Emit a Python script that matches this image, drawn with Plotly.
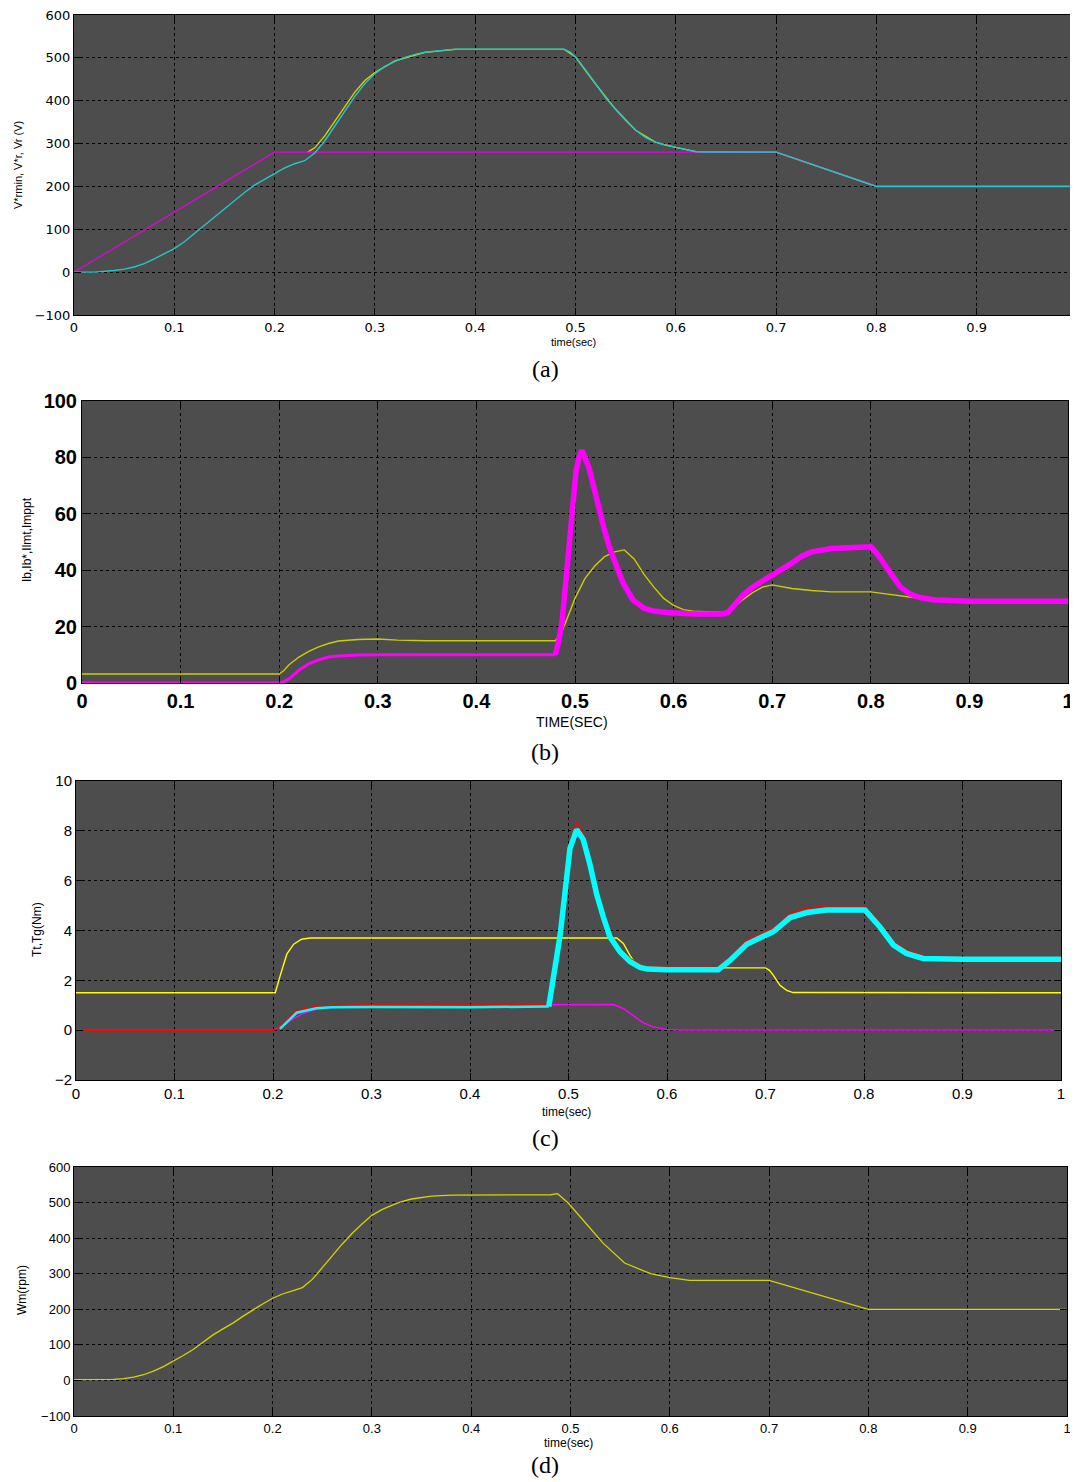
import plotly.graph_objects as go

# ---------------- (a) voltages ----------------
t_a_vrmin = [0, 0.2, 0.7, 0.8, 1.0]
v_a_vrmin = [0, 280, 280, 200, 200]

t_a_vref = [0.233, 0.24, 0.25, 0.26, 0.27, 0.28, 0.29, 0.3, 0.32, 0.35, 0.38, 0.4885,
            0.5, 0.52, 0.54, 0.56, 0.58, 0.6, 0.62, 0.7, 0.8, 1.0]
v_a_vref = [280, 290, 318, 352, 388, 420, 447, 466, 493, 513, 520, 520,
            502, 439, 380, 331, 303, 291, 281, 280, 200, 200]

t_a_vr = [0, 0.02, 0.04, 0.05, 0.06, 0.07, 0.08, 0.09, 0.1, 0.11, 0.12, 0.13, 0.14, 0.15,
          0.16, 0.17, 0.18, 0.19, 0.2, 0.21, 0.22, 0.23, 0.24, 0.25, 0.26, 0.27, 0.28, 0.29,
          0.3, 0.31, 0.32, 0.33, 0.34, 0.35, 0.36, 0.37, 0.38, 0.4885, 0.495, 0.5, 0.51, 0.52,
          0.53, 0.54, 0.55, 0.56, 0.57, 0.58, 0.59, 0.6, 0.61, 0.62, 0.63, 0.7, 0.8, 1.0]
v_a_vr = [0, 0, 4, 7, 12, 20, 31, 43, 55, 71, 90, 110, 130, 149,
          168, 186, 203, 217, 229, 243, 253, 260, 278, 306, 341, 377, 410, 440,
          463, 480, 492, 501, 508, 513, 516, 518, 520, 520, 513, 502, 472, 439,
          407, 380, 354, 331, 314, 303, 296, 291, 286, 281, 280, 280, 200, 200]

# ---------------- (b) currents ----------------
t_b_ilmt = [0, 0.2, 0.205, 0.21, 0.22, 0.23, 0.24, 0.25, 0.26, 0.28, 0.3, 0.32, 0.35, 0.4,
            0.48, 0.485, 0.49, 0.5, 0.51, 0.52, 0.53, 0.54, 0.55, 0.56, 0.57, 0.58, 0.59,
            0.6, 0.61, 0.62, 0.65, 0.66, 0.67, 0.68, 0.69, 0.7, 0.71, 0.72, 0.74, 0.76,
            0.8, 0.82, 0.84, 0.86, 0.9, 1.0]
v_b_ilmt = [3.2, 3.2, 4.5, 6.5, 9.2, 11.2, 12.8, 14.0, 14.9, 15.4, 15.6, 15.2, 15, 15,
            15, 17, 21, 30, 37, 41.5, 44.8, 46.5, 47.2, 44, 38.5, 34, 30,
            27.5, 26, 25.5, 25, 26.5, 29.5, 32, 34, 34.8, 34.2, 33.5, 32.8, 32.3,
            32.3, 31.3, 30.3, 29.5, 29, 29]

t_b_ib1 = [0, 0.2, 0.205, 0.21, 0.215, 0.22, 0.23, 0.24, 0.25, 0.26, 0.28, 0.3, 0.4, 0.48]
v_b_ib1 = [0, 0, 0.5, 1.5, 3, 4.5, 6.8, 8.2, 9.2, 9.6, 9.9, 10, 10, 10]

t_b_ib2 = [0.48, 0.483, 0.487, 0.492, 0.497, 0.501, 0.504, 0.507, 0.51, 0.514, 0.518, 0.522,
           0.529, 0.535, 0.54, 0.549, 0.559, 0.57, 0.58, 0.593, 0.62, 0.65, 0.655, 0.66,
           0.67, 0.68, 0.69, 0.7, 0.71, 0.72, 0.73, 0.74, 0.76, 0.8, 0.806, 0.813, 0.82,
           0.83, 0.84, 0.85, 0.863, 0.9, 1.0]
v_b_ib2 = [10, 14, 22, 40, 60, 75, 80, 82.5, 80, 76.5, 71, 65,
           55.4, 48, 43.6, 35.3, 29.4, 26.5, 25.5, 25, 24.5, 24.5, 25, 27,
           31, 34, 36, 38, 40, 42.5, 45, 46.5, 47.7, 48.3, 46, 42.4, 38.5,
           34, 31.5, 30.3, 29.5, 29, 29]

# ---------------- (c) torques ----------------
t_c_yel = [0, 0.2, 0.2023, 0.2074, 0.214, 0.221, 0.229, 0.2375, 0.549, 0.5557, 0.5624, 0.569,
           0.575, 0.58, 0.6, 0.7, 0.704, 0.708, 0.7147, 0.7215, 0.728, 1.0]
v_c_yel = [1.5, 1.5, 1.5, 2.2, 3.05, 3.45, 3.65, 3.7, 3.7, 3.48, 3.0, 2.6,
           2.52, 2.5, 2.5, 2.5, 2.4, 2.2, 1.8, 1.6, 1.51, 1.5]

t_c_mag = [0, 0.2, 0.21, 0.22, 0.23, 0.24, 0.25, 0.26, 0.28, 0.48, 0.485, 0.5455, 0.5557,
           0.566, 0.576, 0.586, 0.5997, 0.613, 1.0]
v_c_mag = [0, 0, 0.15, 0.45, 0.65, 0.8, 0.9, 0.95, 1.0, 1.0, 1.03, 1.03, 0.87,
           0.56, 0.29, 0.13, 0.03, 0, 0]

t_c_tt = [0, 0.2, 0.205, 0.21, 0.224, 0.244, 0.26, 0.3, 0.4, 0.4795, 0.4863, 0.4914, 0.4964,
          0.5015, 0.5083, 0.515, 0.5218, 0.5286, 0.5353, 0.542, 0.5523, 0.5624, 0.5726, 0.58,
          0.6, 0.652, 0.664, 0.681, 0.6995, 0.708, 0.725, 0.742, 0.762, 0.801, 0.816, 0.8298,
          0.843, 0.86, 0.9, 1.0]
v_c_tt = [0, 0, 0.05, 0.2, 0.8, 0.96, 1.0, 1.02, 1.02, 1.04, 2.54, 3.88, 5.62,
          7.5, 8.37, 7.9, 6.83, 5.62, 4.69, 3.88, 3.28, 2.88, 2.64, 2.55,
          2.52, 2.52, 2.94, 3.61, 3.95, 4.08, 4.69, 4.89, 4.99, 4.99, 4.28, 3.55,
          3.21, 3.0, 2.92, 2.92]

t_c_tg1 = [0.207, 0.215, 0.224, 0.244, 0.26, 0.3, 0.4, 0.48]
v_c_tg1 = [0.05, 0.35, 0.7, 0.88, 0.92, 0.93, 0.92, 0.95]

t_c_tg2 = [0.48, 0.4863, 0.4914, 0.4964, 0.5015, 0.5083, 0.515, 0.5218, 0.5286, 0.5353, 0.542,
           0.5523, 0.5624, 0.5726, 0.58, 0.6, 0.652, 0.664, 0.681, 0.6995, 0.708, 0.725,
           0.742, 0.762, 0.801, 0.816, 0.8298, 0.843, 0.86, 0.9, 1.0]
v_c_tg2 = [0.95, 2.45, 3.78, 5.5, 7.3, 8.05, 7.65, 6.65, 5.45, 4.55, 3.75,
           3.15, 2.75, 2.52, 2.45, 2.42, 2.42, 2.8, 3.45, 3.8, 3.95, 4.52,
           4.72, 4.82, 4.82, 4.15, 3.42, 3.08, 2.88, 2.85, 2.85]

# ---------------- (d) speed ----------------
t_d = [0, 0.03, 0.04, 0.05, 0.06, 0.07, 0.08, 0.09, 0.1, 0.11, 0.12, 0.13, 0.14, 0.15, 0.16,
       0.17, 0.18, 0.19, 0.2, 0.21, 0.22, 0.23, 0.24, 0.25, 0.26, 0.27, 0.28, 0.29, 0.3, 0.31,
       0.32, 0.33, 0.34, 0.35, 0.36, 0.38, 0.45, 0.48, 0.487, 0.498, 0.5154, 0.5328, 0.5545,
       0.5807, 0.6, 0.6197, 0.7, 0.8, 1.0]
v_d = [2, 2, 3, 5, 9, 16, 26, 39, 54, 70, 87, 108, 128, 145, 161,
       180, 198, 215, 231, 243, 252, 261, 284, 318, 352, 383, 413, 440, 464, 480,
       492, 503, 510, 515, 518, 521, 522, 522, 525, 498, 442, 386, 330,
       300, 289, 281, 281, 200, 200]

x_tickvals = [0, 0.1, 0.2, 0.3, 0.4, 0.5, 0.6, 0.7, 0.8, 0.9, 1.0]
x_ticktext = ["0", "0.1", "0.2", "0.3", "0.4", "0.5", "0.6", "0.7", "0.8", "0.9", "1"]

# page offset of the figure (default body margin) and figure size
OFF = 8
W, H = 1078 - OFF, 1482 - OFF

def xdom(l, r):
    return [(l - OFF) / W, (r - OFF) / W]

def ydom(t, b):
    return [1 - (b - OFF) / H, 1 - (t - OFF) / H]

fig = go.Figure()

def add(x, y, color, width, ax):
    fig.add_trace(go.Scatter(x=x, y=y, mode="lines", line=dict(color=color, width=width),
                             xaxis="x" + ax, yaxis="y" + ax, showlegend=False,
                             hoverinfo="skip"))

# (a)
add(t_a_vref, v_a_vref, "#d8d800", 1.3, "")
add(t_a_vrmin, v_a_vrmin, "#e600e6", 1.2, "")
add(t_a_vr, v_a_vr, "#25c6c6", 1.4, "")
# (b)
add(t_b_ilmt, v_b_ilmt, "#cccc00", 1.4, "2")
add(t_b_ib1, v_b_ib1, "#ff00ff", 3, "2")
add(t_b_ib2, v_b_ib2, "#ff00ff", 5.5, "2")
# (c)
add(t_c_yel, v_c_yel, "#ffff00", 1.4, "3")
add(t_c_mag, v_c_mag, "#ff00ff", 1.4, "3")
add(t_c_tt, v_c_tt, "#ff0000", 1.5, "3")
add(t_c_tg1, v_c_tg1, "#00ffff", 2.5, "3")
add(t_c_tg2, v_c_tg2, "#00ffff", 5.5, "3")
# (d)
add(t_d, v_d, "#d4d400", 1.3, "4")

SANS = "Liberation Sans, Arial, sans-serif"
WIDE = "DejaVu Sans, Verdana, sans-serif"

def common():
    return dict(showline=True, linecolor="black", linewidth=1, mirror="ticks",
                ticks="inside", ticklen=7, tickcolor="black", showgrid=True,
                gridcolor="black", griddash="dot", gridwidth=1, zeroline=False,
                automargin=False, ticklabeloverflow="allow")

def xaxis(dom, anchor, fsize, fam=SANS, bold=False):
    d = common()
    d.update(domain=dom, anchor=anchor, range=[0, 1], tickmode="array",
             tickvals=x_tickvals, ticktext=x_ticktext,
             tickfont=dict(family=fam, size=fsize, color="black",
                           weight="bold" if bold else "normal"))
    return d

def yaxis(dom, anchor, rng, dt, fsize, fam=SANS, bold=False):
    d = common()
    d.update(domain=dom, anchor=anchor, range=rng, dtick=dt, tick0=rng[0],
             tickfont=dict(family=fam, size=fsize, color="black",
                           weight="bold" if bold else "normal"))
    return d

fig.update_layout(
    width=W, height=H, margin=dict(l=0, r=0, t=0, b=0, autoexpand=False),
    paper_bgcolor="white", plot_bgcolor="#4d4d4d",
    xaxis=xaxis(xdom(74, 1077), "y", 13, WIDE),
    yaxis=yaxis(ydom(15, 315), "x", [-100, 600], 100, 13, WIDE),
    xaxis2=xaxis(xdom(82, 1068), "y2", 20, SANS, True),
    yaxis2=yaxis(ydom(401, 683), "x2", [0, 100], 20, 20, SANS, True),
    xaxis3=xaxis(xdom(76, 1061), "y3", 15),
    yaxis3=yaxis(ydom(781, 1080), "x3", [-2, 10], 2, 15),
    xaxis4=xaxis(xdom(74, 1067), "y4", 13),
    yaxis4=yaxis(ydom(1167, 1416), "x4", [-100, 600], 100, 13),
)

def note(text, px, py, size, family=SANS, angle=0):
    fig.add_annotation(text=text, x=(px - OFF) / W, y=1 - (py - OFF) / H, xref="paper",
                       yref="paper", showarrow=False, textangle=angle, xanchor="center",
                       yanchor="middle", font=dict(family=family, size=size, color="black"))

SERIF = "Liberation Serif, Times New Roman, serif"
note("time(sec)", 573, 342, 11)
note("V*rmin, V*r, Vr (V)", 18, 165, 11, angle=-90)
note("(a)", 545, 369, 24, SERIF)

note("TIME(SEC)", 572, 722, 14)
note("Ib,Ib*,Ilmt,Imppt", 27, 540, 12, angle=-90)
note("(b)", 545, 752, 24, SERIF)

note("time(sec)", 566, 1112, 12)
note("Tt,Tg(Nm)", 37, 930, 12, angle=-90)
note("(c)", 545, 1138, 24, SERIF)

note("time(sec)", 568, 1443, 12)
note("Wm(rpm)", 22, 1290, 12, angle=-90)
note("(d)", 545, 1465, 24, SERIF)

fig.write_html("out.html")
